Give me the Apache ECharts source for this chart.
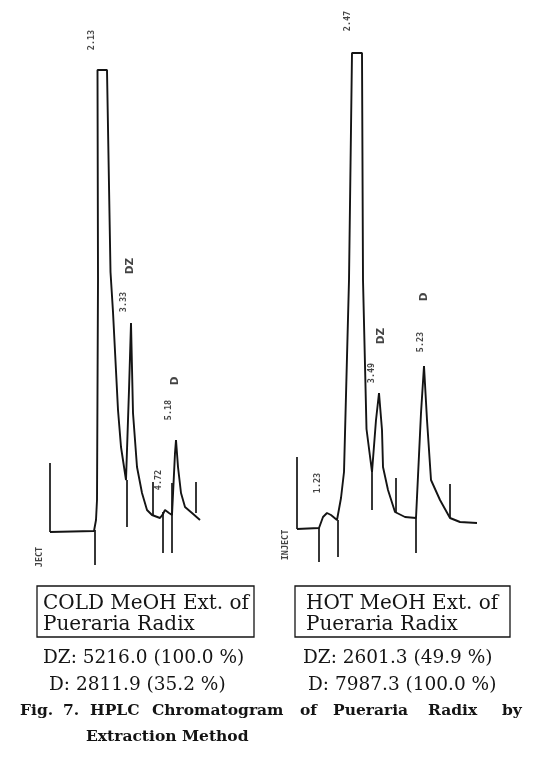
<!DOCTYPE html>
<html>
<head>
<meta charset="utf-8">
<script src="https://cdn.jsdelivr.net/npm/echarts@6/dist/echarts.min.js"></script>
<style>
html,body{margin:0;padding:0;background:#fff;}
#chart{width:538px;height:757px;}
</style>
</head>
<body>
<div id="chart"></div>
<script>
// ---- DATA (time in min after injection, detector signal in arbitrary units) ----
const coldTrace = [[0,0],[1.76,0.2],[1.84,2.4],[1.88,6.4],[1.92,50.4],[1.90,92.4],[2.28,92.4],[2.42,52.0],[2.52,44.0],[2.72,24.4],[2.84,17.0],[3.04,10.4],[3.16,28.4],[3.24,41.8],[3.32,23.8],[3.48,13.0],[3.68,7.8],[3.88,4.4],[4.08,3.4],[4.40,2.8],[4.52,3.6],[4.60,4.4],[4.76,3.8],[4.88,3.4],[5.00,15.8],[5.04,18.4],[5.12,13.0],[5.24,7.8],[5.40,5.0],[5.68,3.8],[6.00,2.4]];
// integration marks: [time, top signal, bottom signal]
const coldMarks = [[0,13.8,0],[1.80,0.4,-6.6],[3.08,10.4,1.0],[4.12,10.0,3.4],[4.52,4.0,-4.2],[4.88,9.8,-4.2],[5.84,10.0,3.8]];
// printed labels: [time, signal, text]
const coldNumLabels = [[1.68,98.4,'2.13'],[2.96,46.0,'3.33'],[4.36,10.4,'4.72'],[4.76,24.4,'5.18'],[-0.40,-5.0,'JECT']];
const coldPeakLabels = [[3.20,53.2,'DZ'],[5.00,30.2,'D']];

const hotTrace = [[0,0],[0.88,0.2],[1.04,2.4],[1.20,3.2],[1.36,2.8],[1.60,1.8],[1.76,6.2],[1.88,11.4],[2.08,49.8],[2.20,95.2],[2.60,95.2],[2.64,49.8],[2.78,20.0],[3.00,11.4],[3.16,21.8],[3.28,27.2],[3.40,19.8],[3.44,12.4],[3.64,7.8],[3.92,3.4],[4.32,2.4],[4.76,2.2],[4.96,23.2],[5.08,32.6],[5.20,21.8],[5.36,9.8],[5.72,5.8],[6.12,2.2],[6.52,1.4],[7.20,1.2]];
const hotMarks = [[0,14.4,0],[0.88,0.2,-6.6],[1.64,1.8,-5.6],[3.00,11.4,3.8],[3.96,10.2,3.4],[4.76,2.2,-4.8],[6.12,9.0,2.2]];
const hotNumLabels = [[2.04,101.6,'2.47'],[3.00,31.2,'3.49'],[4.96,37.4,'5.23'],[0.84,9.2,'1.23'],[-0.44,-3.2,'INJECT']];
const hotPeakLabels = [[3.36,38.6,'DZ'],[5.08,46.4,'D']];

const boxTitles = [['COLD MeOH Ext. of','Pueraria Radix'],['HOT MeOH Ext. of','Pueraria Radix']];
const areaLines = [['DZ: 5216.0 (100.0 %)','D: 2811.9 (35.2 %)'],['DZ: 2601.3 (49.9 %)','D: 7987.3 (100.0 %)']];
const captionWords1 = ['Fig.','7.','HPLC','Chromatogram','of','Pueraria','Radix','by'];
const captionLine2 = 'Extraction Method';

// ---- CHART ----
const chart = echarts.init(document.getElementById('chart'), null, {renderer:'canvas'});
const INK = '#141414';
const SERIF = '"DejaVu Serif", "Liberation Serif", serif';

function axisPair(i){
  return {
    x: {type:'value', gridIndex:i, min:-1, max:8, show:false},
    y: {type:'value', gridIndex:i, min:-10, max:105, show:false}
  };
}
const a0 = axisPair(0), a1 = axisPair(1);

function traceSeries(data, i){
  return {type:'line', xAxisIndex:i, yAxisIndex:i, data:data, showSymbol:false, symbol:'none',
    lineStyle:{color:INK, width:1.9}, clip:false, animation:false, silent:true, z:3};
}
function markSeries(marks, i){
  return {type:'lines', coordinateSystem:'cartesian2d', xAxisIndex:i, yAxisIndex:i,
    data: marks.map(m => ({coords:[[m[0],m[1]],[m[0],m[2]]]})),
    lineStyle:{color:INK, width:1.7, opacity:1}, silent:true, animation:false, z:3};
}
function labelSeries(labels, i, bold){
  return {type:'scatter', xAxisIndex:i, yAxisIndex:i, symbolSize:1,
    itemStyle:{color:'rgba(0,0,0,0)'}, silent:true, animation:false, clip:false,
    data: labels.map(l => ({value:[l[0],l[1]], name:l[2]})),
    label:{show:true, position:'inside', rotate:90, formatter:p => p.name,
      color: INK,
      fontFamily: bold ? '"DejaVu Sans", sans-serif' : '"DejaVu Sans Mono", monospace',
      fontSize: bold ? 10.5 : 8.5, fontWeight: 'bold'}};
}

const graphics = [];
const boxX = [37, 295];
const boxW = [217, 215];
const titleX = [43, 306];
boxX.forEach((bx, k) => {
  graphics.push({type:'rect', shape:{x:bx, y:586, width:boxW[k], height:51},
    style:{fill:'none', stroke:INK, lineWidth:1.3}});
  graphics.push({type:'text', x:titleX[k], y:604, style:{text:boxTitles[k][0], font:'20px '+SERIF, fill:INK, verticalAlign:'middle'}});
  graphics.push({type:'text', x:titleX[k], y:625, style:{text:boxTitles[k][1], font:'20px '+SERIF, fill:INK, verticalAlign:'middle'}});
});
const areaX = [[43,49],[303,308]];
areaX.forEach((ax, k) => {
  graphics.push({type:'text', x:ax[0], y:658, style:{text:areaLines[k][0], font:'18.5px '+SERIF, fill:INK, verticalAlign:'middle'}});
  graphics.push({type:'text', x:ax[1], y:685, style:{text:areaLines[k][1], font:'18.5px '+SERIF, fill:INK, verticalAlign:'middle'}});
});
const wordX = [20, 63, 90, 152, 300, 333, 428, 502];
captionWords1.forEach((w, k) => {
  graphics.push({type:'text', x:wordX[k], y:711, style:{text:w, font:'bold 15.5px '+SERIF, fill:INK, verticalAlign:'middle'}});
});
graphics.push({type:'text', x:86, y:737, style:{text:captionLine2, font:'bold 15.5px '+SERIF, fill:INK, verticalAlign:'middle'}});

chart.setOption({
  animation:false,
  backgroundColor:'#fff',
  grid:[
    {left:25, top:7, width:225, height:575},
    {left:272, top:4, width:225, height:575}
  ],
  xAxis:[a0.x, a1.x],
  yAxis:[a0.y, a1.y],
  series:[
    traceSeries(coldTrace,0), markSeries(coldMarks,0), labelSeries(coldNumLabels,0,false), labelSeries(coldPeakLabels,0,true),
    traceSeries(hotTrace,1), markSeries(hotMarks,1), labelSeries(hotNumLabels,1,false), labelSeries(hotPeakLabels,1,true)
  ],
  graphic: graphics
});
</script>
</body>
</html>
